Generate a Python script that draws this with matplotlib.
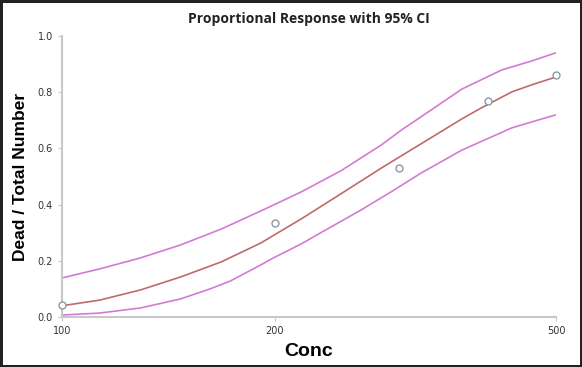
import matplotlib
matplotlib.use('Agg')
from matplotlib import pyplot as plt
from matplotlib.ticker import FixedLocator, NullLocator

# observed proportions
conc_obs = [100, 200, 300, 400, 500]
prop_obs = [0.043, 0.334, 0.53, 0.77, 0.86]

# fitted curve and 95% CI bounds
conc_mid = [100, 113, 129, 147, 168, 191, 218, 248, 283, 322, 368, 392, 433, 462, 500]
fit_mid = [0.040, 0.060, 0.096, 0.142, 0.196, 0.263, 0.349, 0.438, 0.530, 0.616,
           0.705, 0.744, 0.801, 0.826, 0.854]

conc_up = [100, 113, 129, 147, 168, 191, 218, 248, 283, 302, 322, 368, 419, 462, 500]
fit_upper = [0.139, 0.171, 0.210, 0.256, 0.313, 0.377, 0.445, 0.520, 0.612, 0.665,
             0.712, 0.811, 0.879, 0.911, 0.940]

conc_lo = [100, 113, 129, 147, 162, 173, 191, 199, 218, 232, 265, 292, 322, 368, 433, 493, 500]
fit_lower = [0.007, 0.014, 0.032, 0.064, 0.100, 0.128, 0.185, 0.210, 0.260, 0.299,
             0.381, 0.445, 0.512, 0.594, 0.673, 0.715, 0.719]

x_ticks = [100, 200, 500]
y_ticks = [0.0, 0.2, 0.4, 0.6, 0.8, 1.0]

fig = plt.figure(figsize=(5.82, 3.67), dpi=100, edgecolor='#222222', linewidth=2.5)
ax = fig.add_axes([0.1065, 0.1362, 0.849, 0.766])

ax.plot(conc_up, fit_upper, color='#d47ad4', lw=1.2)
ax.plot(conc_lo, fit_lower, color='#d47ad4', lw=1.2)
ax.plot(conc_mid, fit_mid, color='#c06a6a', lw=1.2)
ax.plot(conc_obs, prop_obs, 'o', mfc='white', mec='#8a98a6', ms=5, mew=1, clip_on=False, zorder=5)

ax.set_xscale('log')
ax.set_xlim(100, 500)
ax.set_ylim(0, 1.0)
ax.xaxis.set_major_locator(FixedLocator(x_ticks))
ax.xaxis.set_minor_locator(NullLocator())
ax.set_xticklabels([str(t) for t in x_ticks])
ax.set_yticks(y_ticks)
ax.set_yticklabels(['%.1f' % t for t in y_ticks])

for side in ['top', 'right']:
    ax.spines[side].set_visible(False)
for side in ['left', 'bottom']:
    ax.spines[side].set_color('#c8c8c8')
    ax.spines[side].set_linewidth(1.5)
ax.tick_params(axis='both', which='major', labelsize=7, colors='#c8c8c8',
               labelcolor='#333333', length=3)

ax.set_title("Proportional Response with 95% CI", fontsize=10, fontweight='bold',
             family='Open Sans', color='#222222', pad=9)
ax.set_xlabel("Conc", fontsize=14, fontweight='bold', family='Liberation Sans', labelpad=5)
ax.set_ylabel("Dead / Total Number", fontsize=12.5, fontweight='bold', family='Liberation Sans', labelpad=7)

fig.savefig('out.png', dpi=100, edgecolor=fig.get_edgecolor())
